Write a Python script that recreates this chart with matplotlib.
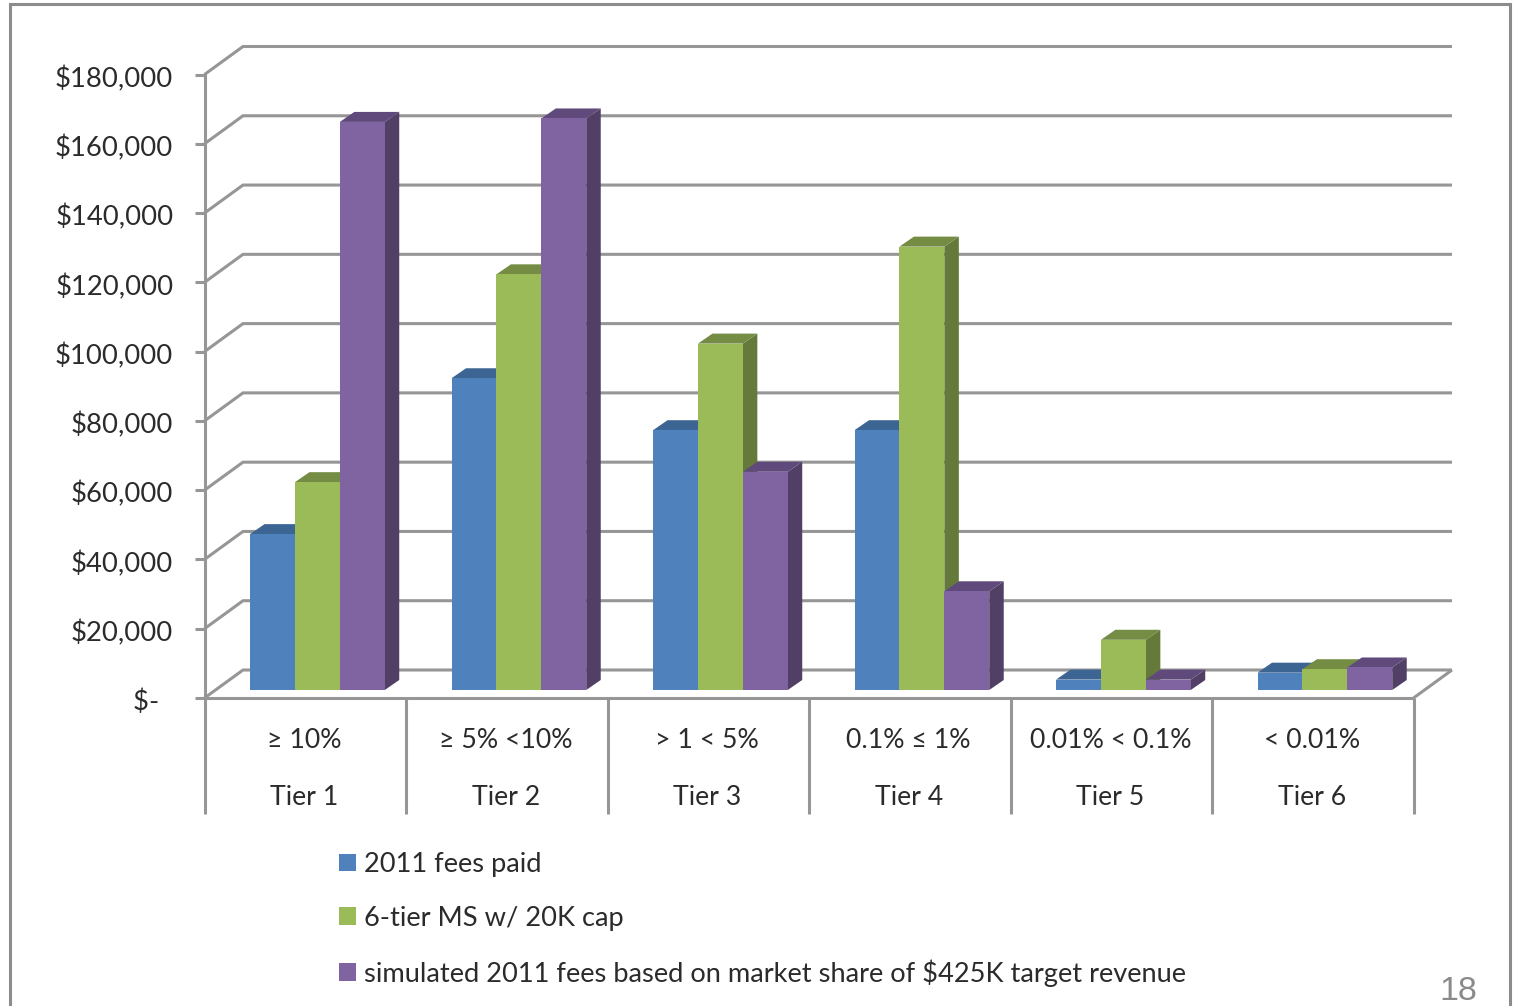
import matplotlib
matplotlib.use("Agg")
import matplotlib.pyplot as plt
from matplotlib.patches import Patch, Polygon, Rectangle
from matplotlib.lines import Line2D
from matplotlib.transforms import ScaledTranslation

plt.rcParams['font.family'] = ['Lato', 'DejaVu Sans']

tiers = ["Tier 1", "Tier 2", "Tier 3", "Tier 4", "Tier 5", "Tier 6"]
shares = ["\u2265 10%", "\u2265 5% <10%", "> 1 < 5%", "0.1% \u2264 1%", "0.01% < 0.1%", "< 0.01%"]
fees_2011 = [45000, 90000, 75000, 75000, 3000, 5000]
six_tier = [60000, 120000, 100000, 128000, 14500, 6000]
simulated = [164000, 165000, 63000, 28500, 3000, 6500]
y_ticks = [0, 20000, 40000, 60000, 80000, 100000, 120000, 140000, 160000, 180000]
y_labels = ["$-  ", "$20,000", "$40,000", "$60,000", "$80,000", "$100,000",
            "$120,000", "$140,000", "$160,000", "$180,000"]
series_names = ["2011 fees paid", "6-tier MS w/ 20K cap",
                "simulated 2011 fees based on market share of $425K target revenue"]

W, H = 1514, 1006
L, R, T, B = 204.5, 1413.5, 74.5, 698
fig = plt.figure(figsize=(W / 100, H / 100), dpi=100, facecolor='white')
ax = fig.add_axes([L / W, 1 - B / H, (R - L) / W, (B - T) / H])
ax.set_xlim(0, 6)
ax.set_ylim(0, 180000)
ax.patch.set_alpha(0)

PX = 6 / (R - L)
PY = 180000 / (B - T)
GRID = '#969696'
LW = 2.2
INK = '#2b2b2b'
wall_x, wall_y = 38.5 * PX, 28 * PY
bar_dx, bar_dy = 14.5 * PX, 10 * PY
base = 8 * PY
start = 0.226
width = 44.9 * PX


def seg(xs, ys, z=1):
    ax.add_line(Line2D(xs, ys, color=GRID, lw=LW, zorder=z, clip_on=False,
                       solid_capstyle='butt', solid_joinstyle='miter'))


# back wall gridlines and their slanted side-wall parts
for v in y_ticks:
    seg([0, wall_x, 6 + wall_x], [v, v + wall_y, v + wall_y])
seg([6, 6 + wall_x], [0, wall_y])

# bars, painted left to right so later fronts cover earlier sides
styles = [
    (fees_2011, '#4f81bd', '#3d6593', '#2f4e73'),
    (six_tier, '#9bbb59', '#748c43', '#657a3a'),
    (simulated, '#8064a2', '#604a7c', '#513f66'),
]
order = 10
for t in range(len(tiers)):
    for s, (vals, front, top, side) in enumerate(styles):
        x0 = t + start + s * width
        x1 = x0 + width
        h = vals[t]
        y1 = base + h
        ax.add_patch(Polygon([(x1, base), (x1 + bar_dx, base + bar_dy),
                              (x1 + bar_dx, y1 + bar_dy), (x1, y1)],
                             fc=side, ec='none', zorder=order, clip_on=False))
        ax.add_patch(Polygon([(x0, y1), (x0 + bar_dx, y1 + bar_dy),
                              (x1 + bar_dx, y1 + bar_dy), (x1, y1)],
                             fc=top, ec='none', zorder=order, clip_on=False))
        ax.bar(x0, h, width=width, bottom=base, align='edge', color=front,
               zorder=order + 0.5, clip_on=False)
        order += 1

# axes
for name in ('top', 'right', 'bottom'):
    ax.spines[name].set_visible(False)
ax.spines['left'].set_color(GRID)
ax.spines['left'].set_linewidth(LW)
ax.set_yticks(y_ticks)
ax.set_yticklabels(y_labels, fontsize=19.7, color=INK)
ax.tick_params(axis='y', length=7, width=LW, color=GRID, pad=15.5)
for lab in ax.get_yticklabels():
    lab.set_transform(lab.get_transform() + ScaledTranslation(0, -2 / 100, fig.dpi_scale_trans))
ax.set_xticks([i + 0.5 for i in range(6)])
ax.set_xticklabels([])
ax.tick_params(axis='x', length=0)
seg([0, 6], [0, 0], 200)
for i in range(7):
    seg([i, i], [0, -116 * PY], 1)
for i in range(6):
    ax.annotate(shares[i], (i + 0.5 - 1 * PX, 0), xytext=(0, -42 * 0.72),
                textcoords='offset points', ha='center', va='center',
                fontsize=19.2, color=INK, annotation_clip=False)
    ax.annotate(tiers[i], (i + 0.5 - 1 * PX, 0), xytext=(0, -99.5 * 0.72),
                textcoords='offset points', ha='center', va='center',
                fontsize=19.2, color=INK, annotation_clip=False)

# legend
handles = [Patch(fc=st[1], ec='none') for st in styles]
leg = fig.legend(handles, series_names, loc='upper left',
                 bbox_to_anchor=(331 / W, 1 - 844 / H), frameon=False,
                 fontsize=19.6, labelcolor=INK, handlelength=0.62, handleheight=0.62,
                 handletextpad=0.3, labelspacing=1.05, borderpad=0.3, borderaxespad=0)

# slide frame and page number
fig.add_artist(Rectangle((9.5 / W, -0.02), (1510 - 9.5) / W, 1.02 - 4.5 / H,
                         transform=fig.transFigure, fc='none', ec='#8c8c8c', lw=2.2))
fig.text(1458 / W, 1 - 992 / H, "18", family=['Liberation Sans'], fontsize=24.5,
         color='#8a8a8a', ha='center', va='center')

fig.savefig('out.png', dpi=100, facecolor='white')
